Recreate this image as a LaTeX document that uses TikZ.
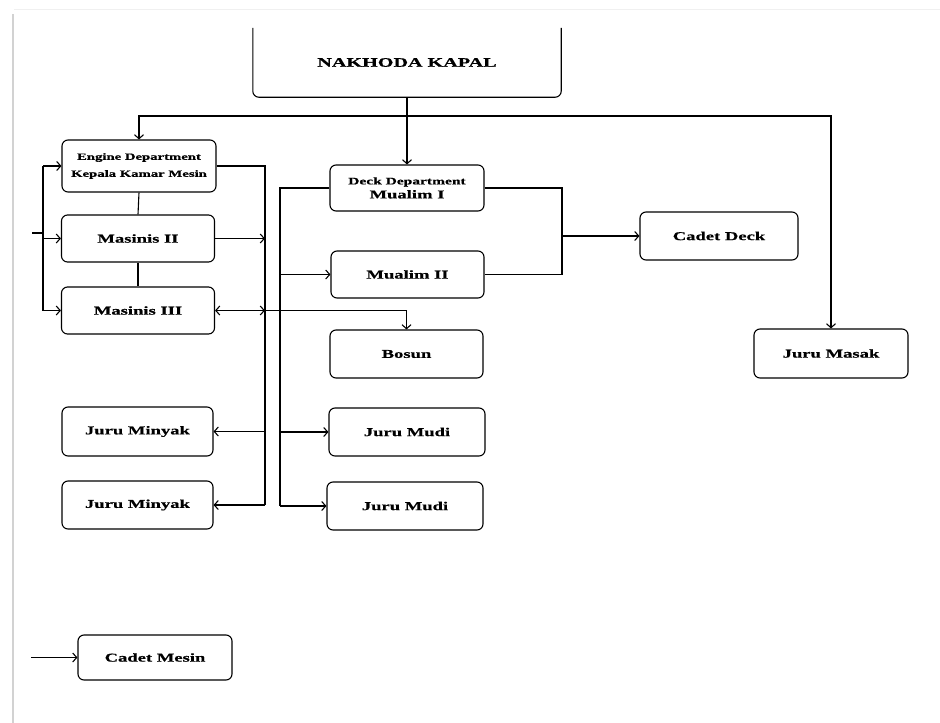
\documentclass[tikz,border=0pt]{standalone}
\usepackage{fontspec}
\newfontfamily\lbl{Liberation Serif}[FakeStretch=1.55, BoldFeatures={FakeBold=0.6}]
\usetikzlibrary{arrows.meta}
\begin{document}
\begin{tikzpicture}[x=1pt,y=-1pt,
  box/.style={draw, line width=1.1pt, rounded corners=6pt, minimum width=153pt, minimum height=48pt, inner sep=0pt, align=center, font=\lbl\bfseries\fontsize{12}{14}\selectfont},
  ln/.style={line width=1.1pt},
  arr/.style={ln, -{Straight Barb[length=4pt,width=9pt]}},
  dbl/.style={ln, {Straight Barb[length=4pt,width=9pt]}-{Straight Barb[length=4pt,width=9pt]}}]
\useasboundingbox (0,0) rectangle (940,723);
% frame shadow
\draw[gray!35, line width=2.5pt] (13,14) -- (13,723);
\draw[gray!12, line width=1pt] (14,9) -- (940,9);
% top box (open at the top)
\node[minimum width=308pt, minimum height=69pt, inner sep=0pt, font=\lbl\bfseries\fontsize{13}{15}\selectfont] (nak) at (407,62.5) {NAKHODA KAPAL};
\draw[ln, rounded corners=6pt] (nak.north west) -- (nak.south west) -- (nak.south east) -- (nak.north east);
% engine side
\node[box, minimum width=154pt, minimum height=52pt, font=\lbl\bfseries\fontsize{9.5}{17}\selectfont] (eng) at (139,166) {Engine Department\\Kepala Kamar Mesin};
\node[box, minimum height=47pt] (mas2) at (138,238.5) {Masinis II};
\node[box, minimum height=47pt] (mas3) at (138,310.5) {Masinis III};
\node[box, minimum width=151pt, minimum height=49pt] (jm1) at (137.5,431.5) {Juru Minyak};
\node[box, minimum width=151pt] (jm2) at (137.5,505) {Juru Minyak};
% deck side
\node[box, minimum width=154pt, minimum height=46pt, font=\lbl\bfseries\fontsize{10}{14}\selectfont] (deck) at (407,188) {Deck Department\\{\fontsize{12}{14}\selectfont Mualim I}};
\node[box, minimum height=47pt] (mu2) at (407.5,274.5) {Mualim II};
\node[box] (bos) at (406.5,354) {Bosun};
\node[box, minimum width=156pt] (jmu1) at (407,432) {Juru Mudi};
\node[box, minimum width=156pt] (jmu2) at (405,506) {Juru Mudi};
\node[box, minimum width=158pt] (cdeck) at (719,236) {Cadet Deck};
\node[box, minimum width=154pt, minimum height=49pt] (masak) at (831,353.5) {Juru Masak};
\node[box, minimum width=154pt, minimum height=45pt] (cmesin) at (155,657.5) {Cadet Mesin};
% junction coordinates
\coordinate (tj) at (407,116);
\coordinate (lbT) at (43,166);
\coordinate (lbB) at (43,310.5);
\coordinate (stub) at (32,233);
\coordinate (rbT) at (265,166);
\coordinate (rbB) at (265,505);
\coordinate (dbT) at (280,188);
\coordinate (dbB) at (280,506);
\coordinate (cjT) at (562,188);
\coordinate (cjB) at (562,274.5);
\coordinate (cmIn) at (31,657.5);
% connectors from the captain
\draw[arr] (nak.south) -- (deck.north);
\draw[arr] (tj) -| (eng.north);
\draw[arr] (tj) -| (masak.north);
% engine chain
\draw[ln] (eng.south) -- (mas2.north);
\draw[ln] (mas2.south) -- (mas3.north);
\draw[ln] (lbT) -- (lbB);
\draw[ln] (stub) -- (stub -| lbT);
\draw[arr] (lbT) -- (eng.west);
\draw[arr] (lbT |- mas2.west) -- (mas2.west);
\draw[arr] (lbB) -- (mas3.west);
% engine right bus
\draw[ln] (eng.east) -- (rbT) -- (rbB);
\draw[arr] (mas2.east) -- (rbT |- mas2.east);
\draw[dbl] (mas3.east) -- (rbT |- mas3.east);
\draw[arr] (rbT |- mas3.east) -| (bos.north);
\draw[arr] (rbT |- jm1.east) -- (jm1.east);
\draw[arr] (rbB) -- (jm2.east);
% deck bus
\draw[ln] (deck.west) -- (dbT) -- (dbB);
\draw[arr] (dbT |- mu2.west) -- (mu2.west);
\draw[arr] (dbT |- jmu1.west) -- (jmu1.west);
\draw[arr] (dbB) -- (jmu2.west);
% cadet deck
\draw[ln] (deck.east) -- (cjT) -- (cjB) -- (mu2.east);
\draw[arr] (cjT |- cdeck.west) -- (cdeck.west);
% cadet mesin
\draw[arr] (cmIn) -- (cmesin.west);
\end{tikzpicture}
\end{document}
